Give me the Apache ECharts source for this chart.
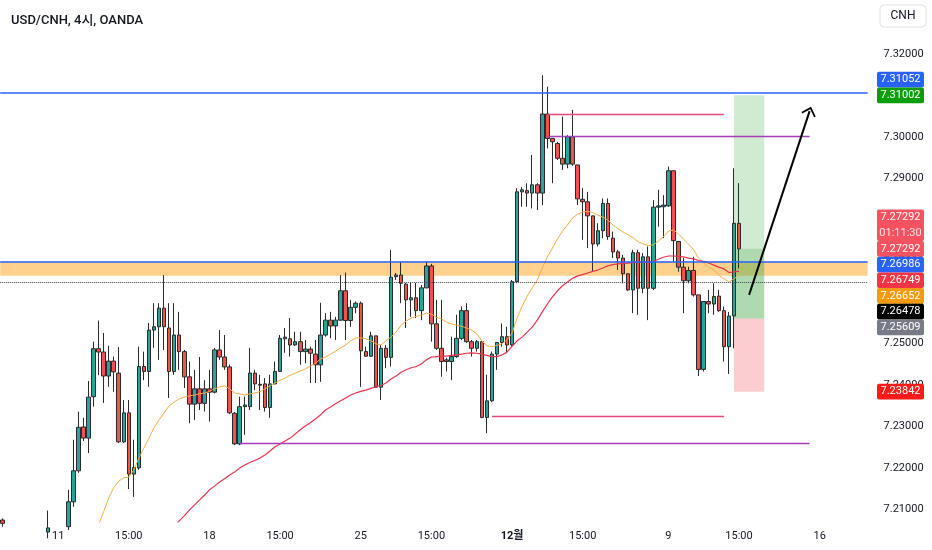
<!DOCTYPE html>
<html>
<head>
<meta charset="utf-8">
<script src="https://cdn.jsdelivr.net/npm/echarts@6/dist/echarts.min.js"></script>
<style>html,body{margin:0;padding:0;background:#fff}#c{width:932px;height:550px}</style>
</head>
<body>
<div id="c"></div>
<script>
// ---- DATA ----
const title = 'USD/CNH, 4시, OANDA';
const currency = 'CNH';
// candles: [open, close, low, high]
const candles = [
[7.2074,7.2066,7.2058,7.2078],[7.2050,7.2040,7.2030,7.2058],[7.2040,7.2025,7.2015,7.2048],[7.2025,7.2030,7.2010,7.2040],
[7.2030,7.2015,7.2005,7.2038],[7.2015,7.2022,7.2000,7.2030],[7.2022,7.2010,7.1995,7.2035],[7.2010,7.2030,7.2000,7.2045],
[7.2030,7.2045,7.2020,7.2060],[7.2045,7.2055,7.2030,7.2097],[7.2055,7.2045,7.2035,7.2068],[7.2045,7.2035,7.2020,7.2060],
[7.2035,7.2058,7.2025,7.2066],[7.2058,7.2118,7.2050,7.2147],[7.2118,7.2193,7.2106,7.2268],[7.2193,7.2298,7.2188,7.2336],
[7.2299,7.2272,7.2265,7.2321],[7.2272,7.2371,7.2236,7.2410],[7.2372,7.2488,7.2348,7.2505],[7.2488,7.2480,7.2424,7.2556],
[7.2480,7.2422,7.2357,7.2526],[7.2422,7.2458,7.2396,7.2495],[7.2458,7.2432,7.2384,7.2469],[7.2429,7.2263,7.2260,7.2492],
[7.2263,7.2333,7.2260,7.2364],[7.2333,7.2185,7.2149,7.2364],[7.2185,7.2201,7.2130,7.2268],[7.2200,7.2445,7.2195,7.2493],
[7.2445,7.2433,7.2412,7.2481],[7.2433,7.2533,7.2396,7.2550],[7.2533,7.2541,7.2490,7.2598],[7.2541,7.2586,7.2461,7.2598],
[7.2586,7.2541,7.2485,7.2666],[7.2538,7.2433,7.2369,7.2598],[7.2433,7.2521,7.2425,7.2598],[7.2521,7.2481,7.2437,7.2577],
[7.2481,7.2420,7.2393,7.2485],[7.2420,7.2354,7.2308,7.2457],[7.2354,7.2391,7.2316,7.2437],[7.2391,7.2356,7.2340,7.2468],
[7.2356,7.2391,7.2336,7.2412],[7.2391,7.2383,7.2312,7.2437],[7.2383,7.2485,7.2380,7.2490],[7.2485,7.2468,7.2461,7.2533],
[7.2468,7.2444,7.2437,7.2521],[7.2444,7.2333,7.2330,7.2450],[7.2332,7.2258,7.2255,7.2335],[7.2258,7.2348,7.2255,7.2372],
[7.2348,7.2352,7.2280,7.2372],[7.2348,7.2429,7.2340,7.2490],[7.2429,7.2403,7.2388,7.2437],[7.2400,7.2402,7.2340,7.2425],
[7.2403,7.2346,7.2336,7.2417],[7.2346,7.2403,7.2321,7.2425],[7.2403,7.2433,7.2402,7.2457],[7.2433,7.2513,7.2432,7.2521],
[7.2512,7.2516,7.2478,7.2538],[7.2512,7.2497,7.2469,7.2562],[7.2497,7.2505,7.2495,7.2529],[7.2505,7.2481,7.2449,7.2529],
[7.2481,7.2487,7.2453,7.2509],[7.2487,7.2477,7.2405,7.2493],[7.2475,7.2449,7.2405,7.2509],[7.2449,7.2521,7.2408,7.2599],
[7.2521,7.2557,7.2517,7.2574],[7.2557,7.2543,7.2513,7.2577],[7.2543,7.2557,7.2509,7.2565],[7.2557,7.2628,7.2555,7.2666],
[7.2628,7.2556,7.2509,7.2672],[7.2556,7.2588,7.2541,7.2606],[7.2588,7.2598,7.2574,7.2602],[7.2598,7.2483,7.2396,7.2602],
[7.2481,7.2470,7.2468,7.2493],[7.2470,7.2519,7.2468,7.2529],[7.2519,7.2395,7.2393,7.2519],[7.2395,7.2489,7.2364,7.2497],
[7.2489,7.2467,7.2441,7.2497],[7.2467,7.2661,7.2445,7.2727],[7.2662,7.2666,7.2654,7.2671],[7.2666,7.2646,7.2598,7.2698],
[7.2644,7.2606,7.2538,7.2647],[7.2606,7.2611,7.2565,7.2647],[7.2611,7.2580,7.2562,7.2647],[7.2580,7.2635,7.2557,7.2642],
[7.2635,7.2688,7.2634,7.2698],[7.2688,7.2548,7.2505,7.2693],[7.2548,7.2489,7.2485,7.2606],[7.2489,7.2457,7.2420,7.2606],
[7.2461,7.2457,7.2433,7.2466],[7.2457,7.2469,7.2412,7.2517],[7.2469,7.2513,7.2466,7.2570],[7.2513,7.2580,7.2509,7.2590],
[7.2580,7.2505,7.2502,7.2598],[7.2505,7.2489,7.2469,7.2509],[7.2489,7.2505,7.2481,7.2509],[7.2505,7.2322,7.2320,7.2505],
[7.2322,7.2362,7.2284,7.2425],[7.2362,7.2475,7.2359,7.2481],[7.2475,7.2503,7.2437,7.2504],[7.2503,7.2517,7.2493,7.2549],
[7.2517,7.2497,7.2477,7.2541],[7.2497,7.2650,7.2493,7.2654],[7.2650,7.2867,7.2646,7.2876],[7.2867,7.2872,7.2831,7.2879],
[7.2870,7.2864,7.2831,7.2888],[7.2864,7.2884,7.2827,7.2956],[7.2884,7.2864,7.2823,7.2888],[7.2864,7.3055,7.2835,7.3149],
[7.3055,7.2996,7.2972,7.3121],[7.2996,7.2988,7.2888,7.2997],[7.2984,7.2948,7.2944,7.2988],[7.2948,7.2934,7.2920,7.3049],
[7.2934,7.3000,7.2924,7.3004],[7.3000,7.2934,7.2930,7.3065],[7.2932,7.2850,7.2835,7.2932],[7.2849,7.2843,7.2751,7.2876],
[7.2843,7.2809,7.2731,7.2867],[7.2809,7.2741,7.2674,7.2809],[7.2741,7.2773,7.2735,7.2791],[7.2773,7.2839,7.2755,7.2851],
[7.2839,7.2759,7.2751,7.2851],[7.2755,7.2722,7.2707,7.2771],[7.2722,7.2707,7.2678,7.2727],[7.2707,7.2669,7.2646,7.2715],
[7.2669,7.2630,7.2628,7.2670],[7.2630,7.2720,7.2574,7.2727],[7.2720,7.2634,7.2570,7.2727],[7.2634,7.2710,7.2622,7.2719],
[7.2710,7.2634,7.2557,7.2735],[7.2634,7.2830,7.2630,7.2847],[7.2830,7.2833,7.2783,7.2872],[7.2831,7.2835,7.2755,7.2859],
[7.2833,7.2918,7.2831,7.2928],[7.2918,7.2749,7.2698,7.2918],[7.2747,7.2685,7.2674,7.2747],[7.2685,7.2652,7.2574,7.2707],
[7.2652,7.2677,7.2646,7.2686],[7.2677,7.2618,7.2614,7.2710],[7.2618,7.2438,7.2422,7.2618],[7.2438,7.2602,7.2433,7.2602],
[7.2602,7.2596,7.2574,7.2630],[7.2596,7.2614,7.2570,7.2646],[7.2615,7.2580,7.2577,7.2630],[7.2580,7.2493,7.2457,7.2590],
[7.2493,7.2567,7.2427,7.2577],[7.2567,7.2791,7.2489,7.2924],[7.2791,7.27292,7.2682,7.2888]
];
const futureSlots = 25;

// moving averages (orange fast, red slow), values start at given candle index
const maFastStart = 18;
const maFast = [
7.2038,7.2062,7.2094,7.2127,7.2152,7.2168,7.2176,7.2178,7.2195,7.2224,7.2248,7.2272,7.2297,7.2316,7.2333,7.2350,
7.2359,7.2367,7.2371,7.2374,7.2376,7.2379,7.2381,7.2385,7.2391,7.2396,7.2398,7.2391,7.2381,7.2379,7.2376,7.2379,
7.2381,7.2384,7.2391,7.2398,7.2405,7.2412,7.2417,7.2424,7.2429,7.2434,7.2439,7.2446,7.2453,7.2463,7.2468,7.2475,
7.2482,7.2490,7.2497,7.2507,7.2514,7.2514,7.2512,7.2507,7.2500,7.2497,7.2507,7.2516,7.2528,7.2545,7.2555,7.2562,
7.2566,7.2569,7.2574,7.2572,7.2564,7.2560,7.2552,7.2548,7.2545,7.2542,7.2538,7.2533,7.2524,7.2507,7.2495,7.2493,
7.2496,7.2500,7.2509,7.2526,7.2562,7.2591,7.2615,7.2635,7.2654,7.2683,7.2710,7.2731,7.2753,7.2772,7.2787,7.2804,
7.2813,7.2818,7.2820,7.2817,7.2811,7.2806,7.2799,7.2787,7.2778,7.2770,7.2763,7.2756,7.2746,7.2741,7.2737,7.2739,
7.2748,7.2758,7.2772,7.2775,7.2765,7.2753,7.2741,7.2727,7.2707,7.2695,7.2685,7.2678,7.2666,7.2657,7.2649,7.2657,
7.26652
];
const maSlowStart = 33;
const maSlow = [
7.2038,7.2057,7.2072,7.2084,7.2098,7.2110,7.2122,7.2134,7.2147,7.2156,7.2166,7.2174,7.2183,7.2190,7.2200,7.2207,
7.2213,7.2218,7.2224,7.2231,7.2241,7.2251,7.2258,7.2265,7.2272,7.2282,7.2292,7.2301,7.2309,7.2318,7.2328,7.2340,
7.2347,7.2355,7.2362,7.2369,7.2376,7.2381,7.2385,7.2388,7.2392,7.2396,7.2399,7.2405,7.2415,7.2422,7.2431,7.2437,
7.2442,7.2445,7.2451,7.2461,7.2468,7.2469,7.2470,7.2470,7.2472,7.2473,7.2475,7.2477,7.2478,7.2477,7.2475,7.2472,
7.2469,7.2469,7.2473,7.2480,7.2494,7.2507,7.2516,7.2528,7.2540,7.2557,7.2577,7.2596,7.2613,7.2628,7.2640,7.2649,
7.2658,7.2664,7.2667,7.2671,7.2675,7.2678,7.2683,7.2688,7.2691,7.2693,7.2694,7.2695,7.2696,7.2697,7.2697,7.2697,
7.2699,7.2704,7.2709,7.2712,7.2712,7.2711,7.2710,7.2707,7.2705,7.2701,7.2699,7.2695,7.2690,7.2685,7.2681,7.2672,
7.2674,7.26749
];

// x-axis labels at candle slots
const xLabelIdx = [11, 25, 41, 55, 71, 85, 101, 115, 132, 146, 162];
const xLabelText = ['11', '15:00', '18', '15:00', '25', '15:00', '12월', '15:00', '9', '15:00', '16'];
const boldLabels = ['12월'];
// y-axis tick labels
const yTicks = [7.21, 7.22, 7.23, 7.24, 7.25, 7.26, 7.27, 7.28, 7.29, 7.30, 7.31, 7.32];

// full-width horizontal levels
const blueLevels = [7.31052, 7.26986];
const zoneTop = 7.26986, zoneBottom = 7.26644;
const dottedLevel = 7.26478;
// segment levels: [startIdx, endIdx, price]
const pinkSegments = [[108, 143, 7.30551], [97, 143, 7.23237]];
const purpleSegments = [[108, 160, 7.30012], [47, 160, 7.22585]];
// long position tool
const posStartIdx = 145, posEndIdx = 151;
const posTarget = 7.31002, posEntry = 7.25609, posStop = 7.23842, posLast = 7.27292;
// arrow: [idx, price] start and end
const arrowFrom = [148, 7.2618], arrowTo = [160, 7.3062];

// right-axis price tags
const tagValues = [7.31052, 7.31002, 7.27292, 7.27292, 7.26986, 7.26749, 7.26652, 7.26478, 7.25609, 7.23842];
const tagTexts  = ['7.31052', '7.31002', '7.27292', '7.27292', '7.26986', '7.26749', '7.26652', '7.26478', '7.25609', '7.23842'];
const tagSub    = [null, null, '01:11:30', null, null, null, null, null, null, null];
const tagColors = ['#2962ff', '#0a9e0a', '#f7525f', '#f7525f', '#2962ff', '#f23645', '#f59b0b', '#000000', '#787b86', '#ff1a1a'];
const tagPinned = [false, true, false, true, false, false, false, false, false, true];

// ---- CHART ----
const FONT = 'Roboto, "Noto Sans CJK KR", sans-serif';
const SLOT = 5.043;
const Y_MIN = 7.20693, Y_MAX = 7.33305;
const N = candles.length + futureSlots;
const cats = Array.from({length: N}, (_, i) => String(i));
const labelMap = {};
xLabelIdx.forEach((k, j) => { labelMap[String(k)] = xLabelText[j]; });
const pad = (start, arr) => new Array(start).fill(null).concat(arr);

const chart = echarts.init(document.getElementById('c'), null, {renderer: 'canvas'});

const C = (i) => String(i);
const segLines = [];
pinkSegments.forEach(s => segLines.push([
  {coord: [C(s[0]), s[2]], lineStyle: {color: '#e5497f', width: 1.3, type: 'solid'}},
  {coord: [C(s[1]), s[2]]}
]));
purpleSegments.forEach(s => segLines.push([
  {coord: [C(s[0]), s[2]], lineStyle: {color: '#a43fb5', width: 1.3, type: 'solid'}},
  {coord: [C(s[1]), s[2]]}
]));

const option = {
  animation: false,
  backgroundColor: '#ffffff',
  title: {
    text: title, left: 6, top: 9,
    textStyle: {fontSize: 13, fontWeight: 500, color: '#131722', fontFamily: FONT}
  },
  grid: {left: 0.2, top: 0, width: N * SLOT, height: 522, outerBoundsMode: 'none', containLabel: false},
  xAxis: {
    type: 'category', data: cats, boundaryGap: true,
    axisLine: {show: false}, axisTick: {show: false}, splitLine: {show: false},
    axisLabel: {
      interval: 0, hideOverlap: false, margin: 9, fontSize: 11, color: '#131722', fontFamily: FONT,
      formatter: (v) => {
        const t = labelMap[v];
        if (!t) return '';
        return boldLabels.indexOf(t) >= 0 ? '{b|' + t + '}' : t;
      },
      rich: {b: {fontWeight: 'bold', fontSize: 11, color: '#131722', fontFamily: FONT}}
    }
  },
  yAxis: {
    type: 'value', position: 'right', min: Y_MIN, max: Y_MAX,
    axisLine: {show: false}, axisTick: {show: false}, splitLine: {show: false},
    axisLabel: {
      customValues: yTicks, margin: 16, fontSize: 11, color: '#131722', fontFamily: FONT, align: 'left',
      formatter: (v) => Number(v).toFixed(5)
    }
  },
  series: [
    {
      // background zones (behind candles)
      name: 'zones', type: 'line', data: new Array(N).fill(null), z: 1, silent: true, symbol: 'none',
      markArea: {
        silent: true, precision: 6,
        data: [
          [{yAxis: zoneTop, itemStyle: {color: 'rgba(255,152,0,0.45)'}}, {yAxis: zoneBottom}],
          [{coord: [C(posStartIdx), posTarget], itemStyle: {color: 'rgba(76,175,80,0.26)'}}, {coord: [C(posEndIdx), posEntry]}],
          [{coord: [C(posStartIdx), posLast], itemStyle: {color: 'rgba(76,175,80,0.26)'}}, {coord: [C(posEndIdx), posEntry]}],
          [{coord: [C(posStartIdx), posEntry], itemStyle: {color: 'rgba(242,54,69,0.25)'}}, {coord: [C(posEndIdx), posStop]}]
        ]
      }
    },
    {
      name: 'USD/CNH', type: 'candlestick', data: candles, barWidth: 4, z: 2, clip: true,
      itemStyle: {
        color: '#26a69a', color0: '#ef5350',
        borderColor: '#2a2a2a', borderColor0: '#2a2a2a', borderColorDoji: '#2a2a2a', borderWidth: 1
      }
    },
    {
      name: 'MA fast', type: 'line', data: pad(maFastStart, maFast), symbol: 'none', z: 3, clip: true,
      lineStyle: {color: '#f6ad45', width: 1}
    },
    {
      name: 'MA slow', type: 'line', data: pad(maSlowStart, maSlow), symbol: 'none', z: 3, clip: true,
      lineStyle: {color: '#e8344e', width: 1.2}
    },
    {
      name: 'levels', type: 'line', data: new Array(N).fill(null), z: 5, silent: true, symbol: 'none',
      markLine: {
        silent: true, precision: 6, symbol: ['none', 'none'], label: {show: false},
        data: [
          ...blueLevels.map(v => ({yAxis: v, lineStyle: {color: '#2962ff', width: 1.6, type: 'solid'}})),
          {yAxis: dottedLevel, lineStyle: {color: '#434651', width: 1, type: 'dotted'}},
          ...segLines,
          [
            {coord: [C(arrowFrom[0]), arrowFrom[1]], symbol: 'none', lineStyle: {color: '#000000', width: 2, type: 'solid'}},
            {coord: [C(arrowTo[0]), arrowTo[1]], symbol: 'path://M0,0 L10,10 L8.4,11.6 L0,3.2 L-8.4,11.6 L-10,10 Z', symbolSize: [15, 9]}
          ]
        ]
      }
    }
  ]
};
chart.setOption(option);

// ---- price tags on the right scale ----
const TAG_H = 15.7, TAG_X = 877, TAG_W = 47;
const ys = tagValues.map(v => chart.convertToPixel({yAxisIndex: 0}, v));
const hs = tagSub.map(s => s ? 2 * TAG_H : TAG_H);
tagPinned.forEach((p, a) => {
  if (!p) return;
  for (let j = a - 1; j >= 0 && !tagPinned[j]; j--) ys[j] = Math.min(ys[j], ys[j + 1] - hs[j + 1] / 2 - hs[j] / 2);
  for (let j = a + 1; j < ys.length && !tagPinned[j]; j++) ys[j] = Math.max(ys[j], ys[j - 1] + hs[j - 1] / 2 + hs[j] / 2);
});
const txt = (s, x, y, fill, size, weight) => ({
  type: 'text', z: 101,
  style: {text: s, x: x, y: y, fill: fill, font: (weight || 'normal') + ' ' + size + 'px ' + FONT,
    align: 'center', verticalAlign: 'middle', textAlign: 'center', textVerticalAlign: 'middle'}
});
const g = [];
tagValues.forEach((v, i) => {
  const h = hs[i], cy = ys[i];
  g.push({type: 'rect', z: 100, shape: {x: TAG_X, y: cy - h / 2, width: TAG_W, height: h, r: 2}, style: {fill: tagColors[i]}});
  if (tagSub[i]) {
    g.push(txt(tagTexts[i], TAG_X + TAG_W / 2, cy - h / 4, '#ffffff', 11));
    g.push(txt(tagSub[i], TAG_X + TAG_W / 2, cy + h / 4, 'rgba(255,255,255,0.85)', 11));
  } else {
    g.push(txt(tagTexts[i], TAG_X + TAG_W / 2, cy, '#ffffff', 11));
  }
});
g.push({type: 'rect', z: 100, shape: {x: 880, y: 5, width: 46, height: 22, r: 4}, style: {fill: '#ffffff', stroke: '#e0e3eb', lineWidth: 1}});
g.push(txt(currency, 903, 16, '#131722', 12));
chart.setOption({graphic: {elements: g}});
</script>
</body>
</html>
